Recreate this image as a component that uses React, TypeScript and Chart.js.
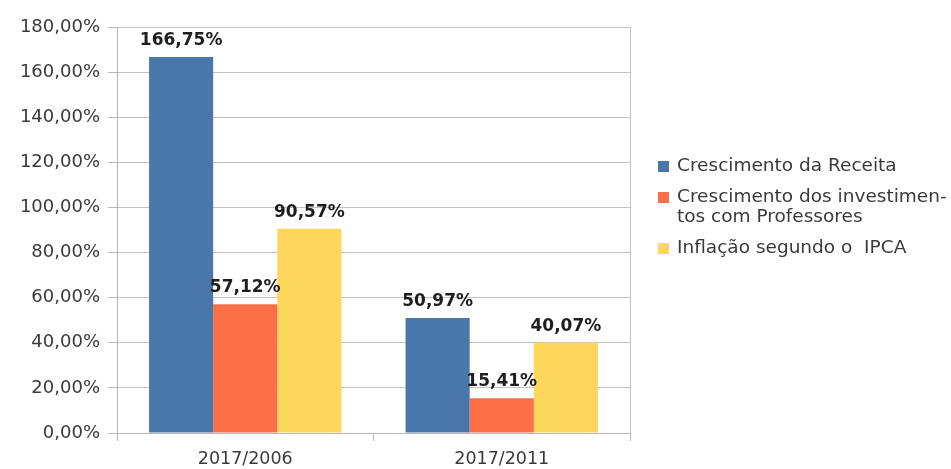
import React, { useEffect, useRef } from "react";
import { Chart, registerables } from "chart.js";

Chart.register(...registerables);

const categories = ["2017/2006", "2017/2011"];
const seriesNames = [
  ["Crescimento da Receita"],
  ["Crescimento dos investimen-", "tos com Professores"],
  ["Inflação segundo o  IPCA"],
];
const receita = [166.75, 50.97];
const professores = [57.12, 15.41];
const ipca = [90.57, 40.07];
const colors = ["#4a77aa", "#fd7047", "#fdd65c"];
const yMin = 0;
const yMax = 180;
const yStep = 20;

const FONT = "'DejaVu Sans', 'Liberation Sans', sans-serif";
const fmt = (v: number) => v.toFixed(2).replace(".", ",") + "%";

const labelPlugin = {
  id: "valueLabels",
  afterDatasetsDraw(chart: any) {
    const ctx = chart.ctx;
    ctx.save();
    ctx.font = `bold 17px ${FONT}`;
    ctx.fillStyle = "#1e1e1e";
    ctx.textAlign = "center";
    ctx.textBaseline = "alphabetic";
    chart.data.datasets.forEach((ds: any, i: number) => {
      const meta = chart.getDatasetMeta(i);
      meta.data.forEach((el: any, j: number) => {
        ctx.fillText(fmt(ds.data[j]), el.x, el.y - 12);
      });
    });
    ctx.restore();
  },
};

const framePlugin = {
  id: "frameAndLegend",
  afterDraw(chart: any) {
    const ctx = chart.ctx;
    const area = chart.chartArea;
    ctx.save();
    ctx.strokeStyle = "#c4c4c4";
    ctx.lineWidth = 1;
    ctx.beginPath();
    ctx.moveTo(Math.round(area.right) + 0.5, area.top);
    ctx.lineTo(Math.round(area.right) + 0.5, area.bottom);
    ctx.stroke();

    // legend
    const lx = area.right + 28;
    let ly = area.top + 139;
    const lineH = 20;
    const gap = 11;
    ctx.font = `18.5px ${FONT}`;
    ctx.textAlign = "left";
    ctx.textBaseline = "middle";
    seriesNames.forEach((lines, i) => {
      ctx.fillStyle = chart.data.datasets[i].backgroundColor;
      ctx.fillRect(lx, ly - 5, 11, 11);
      ctx.fillStyle = "#3a3a3a";
      lines.forEach((t, k) => {
        ctx.fillText(t, lx + 19, ly + k * lineH);
      });
      ly += lines.length * lineH + gap;
    });
    ctx.restore();
  },
};

export default function App() {
  const ref = useRef<HTMLCanvasElement>(null);
  useEffect(() => {
    document.body.style.margin = "0";
    const canvas = ref.current!;
    const chart = new Chart(canvas, {
      type: "bar",
      data: {
        labels: categories,
        datasets: [receita, professores, ipca].map((d, i) => ({
          label: seriesNames[i].join(" "),
          data: d,
          backgroundColor: colors[i],
          borderWidth: 0,
          categoryPercentage: 0.75,
          barPercentage: 1,
        })),
      },
      options: {
        responsive: false,
        animation: false,
        devicePixelRatio: 1,
        layout: { padding: { top: 27, right: 321, bottom: 0, left: 0 } },
        plugins: {
          legend: { display: false },
          tooltip: { enabled: false },
          title: { display: false },
        },
        scales: {
          x: {
            afterFit: (scale: any) => {
              scale.height = 36;
            },
            grid: {
              offset: true,
              drawOnChartArea: false,
              drawTicks: true,
              tickLength: 8,
              tickColor: "#b8b8b8",
            },
            border: { display: true, color: "#b8b8b8" },
            ticks: {
              color: "#3a3a3a",
              font: { family: FONT, size: 17.5 },
              padding: 8,
            },
          },
          y: {
            min: yMin,
            max: yMax,
            afterFit: (scale: any) => {
              scale.width = 117;
            },
            grid: {
              color: "#c2c2c2",
              drawTicks: true,
              tickLength: 9,
              tickColor: "#b8b8b8",
            },
            border: { display: true, color: "#b8b8b8" },
            ticks: {
              stepSize: yStep,
              color: "#3a3a3a",
              font: { family: FONT, size: 18 },
              padding: 8,
              callback: (v: any) => fmt(Number(v)),
            },
          },
        },
      },
      plugins: [labelPlugin, framePlugin],
    });
    return () => chart.destroy();
  }, []);
  return (
    <div style={{ width: 951, height: 469, background: "#fff" }}>
      <canvas ref={ref} width={951} height={469} />
    </div>
  );
}
